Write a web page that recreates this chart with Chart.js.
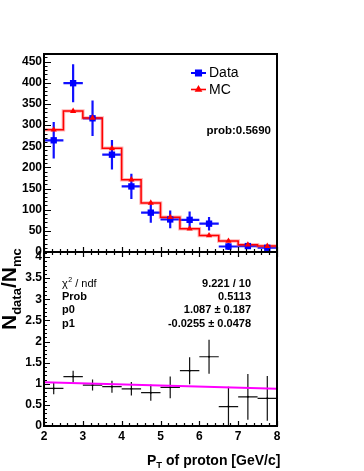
<!DOCTYPE html>
<html><head><meta charset="utf-8">
<script src="https://cdn.jsdelivr.net/npm/chart.js@4/dist/chart.umd.min.js"></script>
<style>html,body{margin:0;padding:0;background:#fff;}canvas{display:block;}</style>
</head><body>
<canvas id="c" width="364" height="471"></canvas>
<script>
// ---- data ----
const binCenters   = [2.25, 2.75, 3.25, 3.75, 4.25, 4.75, 5.25, 5.75, 6.25, 6.75, 7.25, 7.75];
const binHalfWidth = 0.25;
const dataCounts   = [264, 399, 316, 230, 155, 93, 77, 76, 67, 13, 14, 10];
const dataErrors   = [43, 45, 42, 35, 30, 24, 21, 20, 16, 8, 7, 6];
const mcCounts     = [289, 333, 317, 245, 171, 116, 82, 55, 39, 26, 17, 14];
const ratioValues  = [0.89, 1.17, 0.97, 0.93, 0.88, 0.79, 0.915, 1.31, 1.64, 0.46, 0.69, 0.655];
const ratioErrors  = [0.14, 0.14, 0.13, 0.14, 0.16, 0.19, 0.26, 0.32, 0.40, 0.47, 0.54, 0.53];
const fitP0 = 1.087, fitP1 = -0.0255;
const xTicks       = [2, 3, 4, 5, 6, 7, 8];
const countTicks   = [0, 50, 100, 150, 200, 250, 300, 350, 400, 450];
const ratioTicks   = [0, 0.5, 1, 1.5, 2, 2.5, 3, 3.5, 4];
const statLabels   = ['Prob', 'p0', 'p1'];
const statValues   = ['9.221 / 10', '0.5113', '1.087 \u00b1 0.187', '-0.0255 \u00b1 0.0478'];
const probText     = 'prob:0.5690';

const FONT = '"Liberation Sans", Arial, Helvetica, sans-serif';
Chart.defaults.font.family = FONT;

const pts = (xs, ys) => xs.map((x, i) => ({x: x, y: ys[i]}));
const stepPts = (xs, ys) => {
  const p = xs.map((x, i) => ({x: x - binHalfWidth, y: ys[i]}));
  p.push({x: xs[xs.length - 1] + binHalfWidth, y: ys[ys.length - 1]});
  return p;
};
const fitX = [xTicks[0], xTicks[xTicks.length - 1]];

const errorBarPlugin = {
  id: 'errorBars',
  beforeDatasetsDraw(chart) {
    const ctx = chart.ctx;
    chart.data.datasets.forEach(ds => {
      if (!ds.errorY) return;
      const xs = chart.scales.x, ys = chart.scales[ds.yAxisID];
      ctx.save();
      ctx.strokeStyle = ds.errorColor;
      ctx.lineWidth = ds.errorWidth;
      ds.data.forEach((p, i) => {
        const e = ds.errorY[i];
        const px = xs.getPixelForValue(p.x), py = ys.getPixelForValue(p.y);
        const lo = ys.getPixelForValue(Math.max(ys.min, p.y - e));
        const hi = ys.getPixelForValue(Math.min(ys.max, p.y + e));
        ctx.beginPath();
        ctx.moveTo(xs.getPixelForValue(p.x - binHalfWidth), py);
        ctx.lineTo(xs.getPixelForValue(p.x + binHalfWidth), py);
        ctx.moveTo(px, lo);
        ctx.lineTo(px, hi);
        ctx.stroke();
      });
      ctx.restore();
    });
  }
};

function minorList(major, max, n) {
  const step = (major[1] - major[0]) / n;
  const out = [];
  for (let k = 0; major[0] + k * step <= max + 1e-9; k++) out.push(major[0] + k * step);
  return out;
}

const framePlugin = {
  id: 'frame',
  afterDatasetsDraw(chart) {
    const ctx = chart.ctx, a = chart.chartArea;
    const xs = chart.scales.x, yt = chart.scales.yTop, yr = chart.scales.yRatio;
    ctx.save();
    ctx.strokeStyle = '#000';
    ctx.lineWidth = 1.2;
    ctx.beginPath();
    const xMinor = minorList(xTicks, xs.max, 5);
    xMinor.forEach((v, k) => {
      const px = Math.round(xs.getPixelForValue(v)) + 0.5;
      const major = k % 5 === 0;
      const l = major ? 5 : 3;
      ctx.moveTo(px, yr.bottom); ctx.lineTo(px, yr.bottom - l);
      ctx.moveTo(px, yt.bottom - l); ctx.lineTo(px, yt.bottom + l);
    });
    minorList(countTicks, yt.max, 5).forEach((v, k) => {
      const py = Math.round(yt.getPixelForValue(v)) + 0.5;
      const l = k % 5 === 0 ? 7 : 3.5;
      ctx.moveTo(a.left, py); ctx.lineTo(a.left + l, py);
    });
    minorList(ratioTicks, yr.max, 5).forEach((v, k) => {
      const py = Math.round(yr.getPixelForValue(v)) + 0.5;
      const l = k % 5 === 0 ? 6 : 3;
      ctx.moveTo(a.left, py); ctx.lineTo(a.left + l, py);
    });
    ctx.stroke();
    ctx.lineWidth = 2;
    ctx.beginPath();
    ctx.rect(a.left, a.top, a.right - a.left, a.bottom - a.top);
    ctx.moveTo(a.left, yt.bottom); ctx.lineTo(a.right, yt.bottom);
    ctx.stroke();
    ctx.restore();
  }
};

const textPlugin = {
  id: 'texts',
  afterDraw(chart) {
    const ctx = chart.ctx;
    ctx.save();
    ctx.fillStyle = '#000';
    chart.data.datasets.forEach(ds => {
      if (ds.legendY === undefined) return;
      const y = ds.legendY;
      ctx.strokeStyle = ds.borderColor;
      ctx.fillStyle = ds.backgroundColor;
      ctx.lineWidth = ds.legendLineWidth;
      ctx.beginPath(); ctx.moveTo(191, y); ctx.lineTo(206, y); ctx.stroke();
      Chart.helpers.drawPoint(ctx, {pointStyle: ds.pointStyle, radius: ds.pointRadius * 0.8, borderWidth: 1, rotation: 0}, 198.5, y);
      ctx.fillStyle = '#000';
      ctx.font = '14px ' + FONT;
      ctx.textBaseline = 'middle';
      ctx.textAlign = 'left';
      ctx.fillText(ds.label, 209, y + 0.5);
    });
    ctx.font = 'bold 11.5px ' + FONT;
    ctx.textAlign = 'right';
    ctx.textBaseline = 'alphabetic';
    ctx.fillText(probText, 271, 134);
    ctx.textAlign = 'left';
    ctx.font = '11px ' + FONT;
    ctx.fillText('\u03c7', 62, 287);
    let w = ctx.measureText('\u03c7').width;
    ctx.font = '7px ' + FONT;
    ctx.fillText('2', 62 + w + 0.5, 282);
    let w2 = ctx.measureText('2').width;
    ctx.font = '11px ' + FONT;
    ctx.fillText(' / ndf', 62 + w + w2 + 0.5, 287);
    ctx.font = 'bold 11px ' + FONT;
    const rowsY = [287, 299.5, 313, 326.5];
    statLabels.forEach((s, i) => ctx.fillText(s, 62, rowsY[i + 1]));
    ctx.textAlign = 'right';
    statValues.forEach((s, i) => ctx.fillText(s, 251, rowsY[i]));
    ctx.textAlign = 'left';
    ctx.font = 'bold 14px ' + FONT;
    let x0 = 147;
    ctx.fillText('P', x0, 465);
    x0 += ctx.measureText('P').width;
    ctx.font = 'bold 9.5px ' + FONT;
    ctx.fillText('T', x0, 468);
    x0 += ctx.measureText('T').width;
    ctx.font = 'bold 14px ' + FONT;
    ctx.fillText(' of proton [GeV/c]', x0, 465);
    ctx.translate(16, 330);
    ctx.rotate(-Math.PI / 2);
    let t = 0;
    const part = (txt, size, dy) => {
      ctx.font = 'bold ' + size + 'px ' + FONT;
      ctx.fillText(txt, t, dy);
      t += ctx.measureText(txt).width;
    };
    part('N', 21, 0);
    part('data', 13, 5);
    part('/N', 21, 0);
    part('mc', 13, 5);
    ctx.restore();
  }
};

new Chart(document.getElementById('c'), {
  type: 'scatter',
  data: {
    datasets: [
      {label: 'MC band', type: 'line', yAxisID: 'yTop', data: stepPts(binCenters, mcCounts), stepped: 'before',
       borderColor: 'rgba(255,90,90,0.45)', borderWidth: 3.5, pointRadius: 0, fill: false, order: 6},
      {label: 'MC line', type: 'line', yAxisID: 'yTop', data: stepPts(binCenters, mcCounts), stepped: 'before',
       borderColor: '#ff0000', borderWidth: 1.5, pointRadius: 0, fill: false, order: 5},
      {label: 'Data', yAxisID: 'yTop', data: pts(binCenters, dataCounts), pointStyle: 'rect', pointRadius: 4.5,
       backgroundColor: '#0000ff', borderColor: '#0000ff', borderWidth: 0, order: 2,
       errorY: dataErrors, errorColor: '#1010ff', errorWidth: 2.2, legendY: 73, legendLineWidth: 2},
      {label: 'MC', yAxisID: 'yTop', data: pts(binCenters, mcCounts), pointStyle: 'triangle', pointRadius: 3.6,
       backgroundColor: '#ff0000', borderColor: '#ff0000', borderWidth: 0, order: 1,
       legendY: 89.5, legendLineWidth: 1.6},
      {label: 'Fit', type: 'line', yAxisID: 'yRatio', data: pts(fitX, fitX.map(x => fitP0 + fitP1 * x)),
       borderColor: '#ff00ff', borderWidth: 2, pointRadius: 0, fill: false, order: 3},
      {label: 'Ratio', yAxisID: 'yRatio', data: pts(binCenters, ratioValues), pointRadius: 1,
       backgroundColor: '#000', borderColor: '#000', borderWidth: 0, order: 4,
       errorY: ratioErrors, errorColor: '#111', errorWidth: 1.2}
    ]
  },
  options: {
    responsive: false, animation: false, devicePixelRatio: 1,
    layout: {padding: {left: 0, right: 87, top: 54, bottom: 0}},
    plugins: {legend: {display: false}, tooltip: {enabled: false}},
    scales: {
      x: {type: 'linear', position: 'bottom', min: 2, max: 8,
          grid: {display: false, drawTicks: false}, border: {display: false},
          afterBuildTicks: s => { s.ticks = xTicks.map(v => ({value: v})); },
          ticks: {font: {weight: 'bold', size: 12}, color: '#000', padding: 3, maxRotation: 0, autoSkip: false},
          afterFit: s => { s.height = 45; }},
      yRatio: {type: 'linear', position: 'left', stack: 'panels', stackWeight: 174, min: 0, max: 4.12,
          grid: {display: false, drawTicks: false}, border: {display: false},
          afterBuildTicks: s => { s.ticks = ratioTicks.map(v => ({value: v})); },
          ticks: {font: {weight: 'bold', size: 12}, color: '#000', padding: 2, autoSkip: false,
                  callback: v => String(Math.round(v * 10) / 10)},
          afterFit: s => { s.width = 44; }},
      yTop: {type: 'linear', position: 'left', stack: 'panels', stackWeight: 198, min: 0, max: 468,
          grid: {display: false, drawTicks: false}, border: {display: false},
          afterBuildTicks: s => { s.ticks = countTicks.map(v => ({value: v})); },
          ticks: {font: {weight: 'bold', size: 12}, color: '#000', padding: 2, autoSkip: false},
          afterFit: s => { s.width = 44; }}
    }
  },
  plugins: [errorBarPlugin, framePlugin, textPlugin]
});
</script>
</body></html>
